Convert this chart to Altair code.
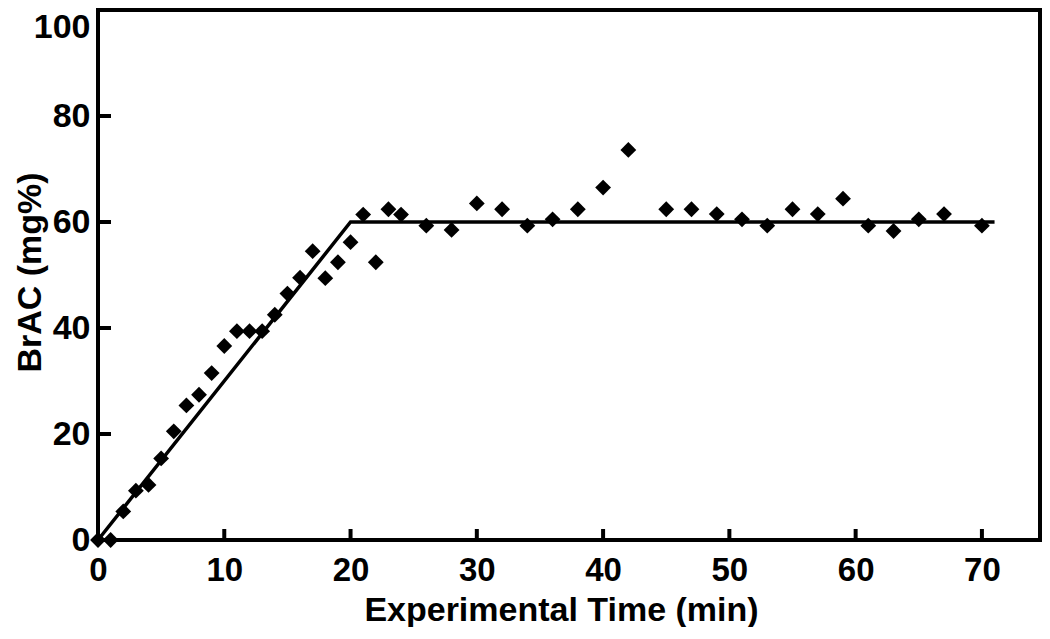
import altair as alt
import pandas as pd

# Observed breath alcohol readings
time_min = [0, 1, 2, 3, 4, 5, 6, 7, 8, 9, 10, 11, 12, 13, 14, 15, 16, 17, 18, 19,
            20, 21, 22, 23, 24, 26, 28, 30, 32, 34, 36, 38, 40, 42, 45, 47, 49,
            51, 53, 55, 57, 59, 61, 63, 65, 67, 70]
brac = [0, 0, 5.4, 9.3, 10.4, 15.4, 20.5, 25.4, 27.4, 31.5, 36.6, 39.4, 39.4,
        39.4, 42.5, 46.5, 49.5, 54.5, 49.4, 52.4, 56.2, 61.4, 52.4, 62.4, 61.4,
        59.3, 58.5, 63.5, 62.4, 59.3, 60.5, 62.4, 66.5, 73.6, 62.4, 62.4, 61.5,
        60.5, 59.3, 62.4, 61.5, 64.4, 59.3, 58.3, 60.5, 61.5, 59.3]

# Target profile (ramp then plateau)
target_time = [0, 20, 71]
target_brac = [0, 60, 60]

x_ticks = [10, 20, 30, 40, 50, 60, 70]
y_ticks = [20, 40, 60, 80]
x_labels = [0, 10, 20, 30, 40, 50, 60, 70]
y_labels = [0, 20, 40, 60, 80, 100]

W, H = 942, 530
FONT = "Liberation Sans"

pts = pd.DataFrame({"t": time_min, "v": brac})
tgt = pd.DataFrame({"t": target_time, "v": target_brac})
xt = pd.DataFrame({"t": x_ticks, "v": [0] * len(x_ticks)})
yt = pd.DataFrame({"t": [0] * len(y_ticks), "v": y_ticks})

xscale = alt.Scale(domain=[0, 74.6], nice=False, zero=False)
yscale = alt.Scale(domain=[0, 100], nice=False)

x_axis = alt.Axis(orient="bottom", values=x_labels, ticks=False, tickSize=0,
                  domain=False, grid=False, labelPadding=14, labelFlush=False,
                  labelFontSize=33, labelFont=FONT, labelFontWeight="bold",
                  labelColor="black", labelBaseline="top",
                  title="Experimental Time (min)", titleFontSize=34,
                  titleFont=FONT, titleFontWeight="bold", titleColor="black",
                  titleX=463, titleY=80, titleBaseline="alphabetic",
                  titleAlign="center")

y_axis = alt.Axis(orient="left", values=y_labels, ticks=False, tickSize=0,
                  domain=False, grid=False, labelPadding=8, labelFlush=False,
                  labelFontSize=34, labelFont=FONT, labelFontWeight="bold",
                  labelColor="black",
                  labelBaseline={"condition": {"test": "datum.value == 100", "value": "top"},
                                 "value": "middle"},
                  title="BrAC (mg%)", titleFontSize=34, titleFont=FONT,
                  titleFontWeight="bold", titleColor="black",
                  titleX=-58, titleY=262, titleAngle=-90,
                  titleBaseline="alphabetic", titleAlign="center")

line = alt.Chart(tgt).mark_line(color="black", strokeWidth=3.5, clip=False).encode(
    x=alt.X("t:Q", scale=xscale, axis=x_axis),
    y=alt.Y("v:Q", scale=yscale, axis=y_axis),
)

xtick_layer = alt.Chart(xt).mark_tick(orient="vertical", color="black", size=11,
                                      thickness=4, yOffset=-5.5, opacity=1).encode(
    x=alt.X("t:Q", scale=xscale),
    y=alt.Y("v:Q", scale=yscale),
)

ytick_layer = alt.Chart(yt).mark_tick(orient="horizontal", color="black", size=13,
                                      thickness=4, xOffset=6.5, opacity=1).encode(
    x=alt.X("t:Q", scale=xscale),
    y=alt.Y("v:Q", scale=yscale),
)

points = alt.Chart(pts).mark_point(shape="diamond", filled=True, color="black",
                                   opacity=1, size=250, clip=False).encode(
    x=alt.X("t:Q", scale=xscale),
    y=alt.Y("v:Q", scale=yscale),
)

chart = alt.layer(line, xtick_layer, ytick_layer, points).properties(
    width=W, height=H,
    autosize=alt.AutoSizeParams(type="none"),
    padding={"left": 90, "top": 2, "right": 2, "bottom": 87},
    background="white",
).configure_view(stroke="black", strokeWidth=4)

chart.save("out.html", embed_options={"renderer": "svg", "actions": False})
